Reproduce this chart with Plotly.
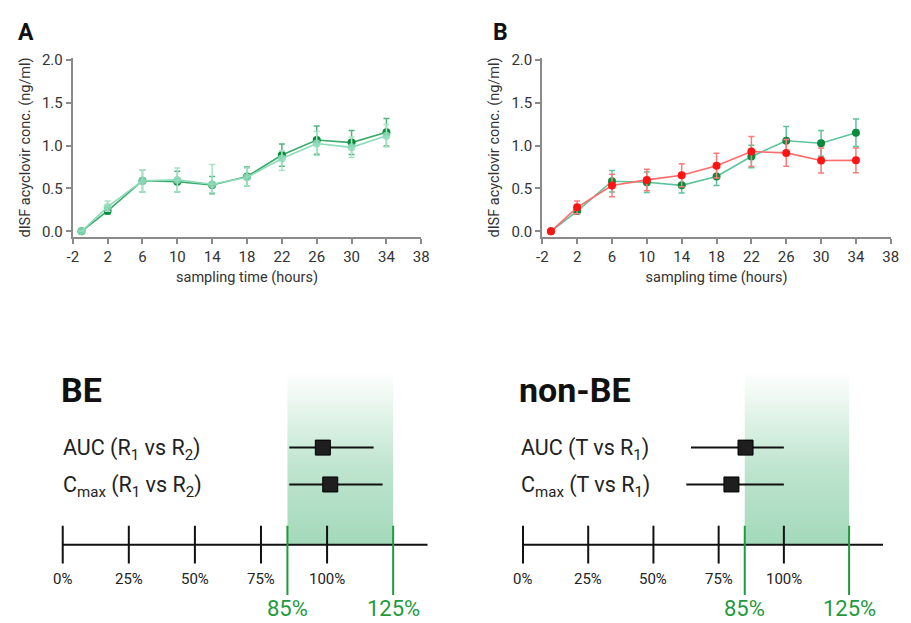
import plotly.graph_objects as go

# The page body has an 8px margin, so the figure is drawn 8px smaller and all
# layout positions below are given in window pixels and converted.
OFF = 8
W, H = 911 - OFF, 623 - OFF
FONT = "Roboto"


def fx(px):
    return (px - OFF) / W


def fy(py):
    return (623 - py) / H


# ---------------- data: concentration-time curves ----------------
times = [-1, 2, 6, 10, 14, 18, 22, 26, 30, 34]
x_ticks = [-2, 2, 6, 10, 14, 18, 22, 26, 30, 34, 38]
x_tick_text = ["-2", "2", "6", "10", "14", "18", "22", "26", "30", "34", "38"]
y_ticks = [0.0, 0.5, 1.0, 1.5, 2.0]

# Panel A
a_r1 = [0, 0.24, 0.59, 0.58, 0.54, 0.64, 0.89, 1.065, 1.035, 1.155]
a_r1_err = [0, 0.04, 0.13, 0.12, 0.10, 0.11, 0.13, 0.165, 0.14, 0.16]
a_r2 = [0, 0.285, 0.59, 0.60, 0.55, 0.63, 0.85, 1.025, 0.98, 1.115]
a_r2_err_plus = [0, 0.07, 0.13, 0.14, 0.23, 0.11, 0.09, 0.14, 0.12, 0.13]
a_r2_err_minus = [0, 0.05, 0.13, 0.14, 0.10, 0.10, 0.14, 0.14, 0.12, 0.13]

# Panel B
b_r1 = [0, 0.236, 0.585, 0.573, 0.537, 0.64, 0.873, 1.057, 1.027, 1.15]
b_r1_err = [0, 0.03, 0.125, 0.12, 0.09, 0.105, 0.13, 0.165, 0.15, 0.16]
b_t = [0, 0.28, 0.535, 0.60, 0.654, 0.766, 0.931, 0.915, 0.827, 0.828]
b_t_err = [0, 0.075, 0.13, 0.125, 0.135, 0.145, 0.175, 0.155, 0.145, 0.145]

# ---------------- data: bioequivalence forest plots ----------------
be_labels = ["AUC (R<sub>1</sub> vs R<sub>2</sub>)", "C<sub>max</sub> (R<sub>1</sub> vs R<sub>2</sub>)"]
be_point = [98.4, 101.2]
be_lo = [85.7, 85.7]
be_hi = [117.6, 121.0]

nbe_labels = ["AUC (T vs R<sub>1</sub>)", "C<sub>max</sub> (T vs R<sub>1</sub>)"]
nbe_point = [85.3, 79.9]
nbe_lo = [64.4, 62.6]
nbe_hi = [100.0, 100.0]

row_pos = [2, 1]
pct_ticks = [0, 25, 50, 75, 100]
pct_tick_text = ["0%", "25%", "50%", "75%", "100%"]
limits = [85, 125]
limit_text = ["85%", "125%"]
axis_end = 138

# ---------------- colours ----------------
DARK_GREEN = "#0b8a3b"
DARK_GREEN_LINE = "#3aa96a"
LIGHT_GREEN = "#8edbb8"
TEAL_LINE = "#5cc49a"
RED = "#ff1414"
RED_LINE = "#ff6a6a"
LIMIT_GREEN = "#1f9a3c"

fig = go.Figure()


def err(arr, minus=None, color="#000"):
    d = dict(type="data", array=arr, visible=True, color=color, thickness=1.5, width=3)
    if minus is not None:
        d["arrayminus"] = minus
        d["symmetric"] = False
    return d


# Panel A traces
fig.add_trace(go.Scatter(x=times, y=a_r1, mode="lines+markers", xaxis="x", yaxis="y",
                         line=dict(color=DARK_GREEN_LINE, width=1.6),
                         marker=dict(color=DARK_GREEN, size=8),
                         error_y=err(a_r1_err, color="#4fb57c"), showlegend=False))
fig.add_trace(go.Scatter(x=times, y=a_r2, mode="lines+markers", xaxis="x", yaxis="y",
                         line=dict(color=LIGHT_GREEN, width=1.6),
                         marker=dict(color=LIGHT_GREEN, size=8, opacity=0.85),
                         error_y=err(a_r2_err_plus, a_r2_err_minus, color="#a6e3c7"),
                         showlegend=False))

# Panel B traces
fig.add_trace(go.Scatter(x=times, y=b_r1, mode="lines+markers", xaxis="x2", yaxis="y2",
                         line=dict(color=TEAL_LINE, width=1.6),
                         marker=dict(color=DARK_GREEN, size=8),
                         error_y=err(b_r1_err, color=TEAL_LINE), showlegend=False))
fig.add_trace(go.Scatter(x=times, y=b_t, mode="lines+markers", xaxis="x2", yaxis="y2",
                         line=dict(color=RED_LINE, width=1.6),
                         marker=dict(color=RED, size=8),
                         error_y=err(b_t_err, color="#ff7b7b"), showlegend=False))

# ---------------- bottom panels ----------------
# vertical layout of forest panels (in y3 units, rows at 2 and 1, 37.5 px per unit)
AXIS_Y = -0.64
TICK_TOP = -0.12
TICK_BOT = -1.147
LIMIT_BOT = -2.0
BAND_TOP = 4.067
TICK_LABEL_Y = -1.58
LIMIT_LABEL_Y = -2.36
TITLE_Y = 3.57
ROW_SHIFT = -0.05

annotations = []


def forest_panel(xa, labels, point, lo, hi, title, label_px):
    # gradient acceptance band
    fig.add_trace(go.Scatter(x=[limits[0], limits[1], limits[1], limits[0], limits[0]],
                             y=[AXIS_Y, AXIS_Y, BAND_TOP, BAND_TOP, AXIS_Y],
                             xaxis=xa, yaxis="y3", mode="lines", fill="toself",
                             line=dict(width=0, color="rgba(0,0,0,0)"),
                             fillgradient=dict(type="vertical",
                                               colorscale=[[0, "#a3d9bb"], [0.45, "#bfe5cf"],
                                                           [1, "rgba(255,255,255,1)"]]),
                             hoverinfo="skip", showlegend=False))
    # number line
    fig.add_trace(go.Scatter(x=[0, axis_end], y=[AXIS_Y, AXIS_Y], xaxis=xa, yaxis="y3",
                             mode="lines", line=dict(color="#111", width=2),
                             hoverinfo="skip", showlegend=False))
    tx, ty = [], []
    for t in pct_ticks:
        tx += [t, t, None]
        ty += [TICK_TOP, TICK_BOT, None]
    fig.add_trace(go.Scatter(x=tx, y=ty, xaxis=xa, yaxis="y3", mode="lines",
                             line=dict(color="#111", width=2),
                             hoverinfo="skip", showlegend=False))
    lx, ly = [], []
    for t in limits:
        lx += [t, t, None]
        ly += [TICK_TOP, LIMIT_BOT, None]
    fig.add_trace(go.Scatter(x=lx, y=ly, xaxis=xa, yaxis="y3", mode="lines",
                             line=dict(color=LIMIT_GREEN, width=2),
                             hoverinfo="skip", showlegend=False))
    # point estimates with 90% CI
    fig.add_trace(go.Scatter(x=point, y=row_pos, xaxis=xa, yaxis="y3", mode="markers",
                             marker=dict(symbol="square", size=15, color="#1e1e1e",
                                         line=dict(color="#000", width=1)),
                             error_x=dict(type="data", symmetric=False,
                                          array=[h - p for h, p in zip(hi, point)],
                                          arrayminus=[p - l for p, l in zip(point, lo)],
                                          color="#111", thickness=2, width=0),
                             showlegend=False))
    for t, s in zip(pct_ticks, pct_tick_text):
        annotations.append(dict(x=t, y=TICK_LABEL_Y, xref=xa, yref="y3", text=s,
                                showarrow=False, font=dict(family=FONT, size=15, color="#222")))
    for t, s in zip(limits, limit_text):
        annotations.append(dict(x=t, y=LIMIT_LABEL_Y, xref=xa, yref="y3", text=s,
                                showarrow=False, font=dict(family=FONT, size=22, color=LIMIT_GREEN)))
    for r, s in zip(row_pos, labels):
        annotations.append(dict(x=fx(label_px), y=r + ROW_SHIFT, xref="paper", yref="y3", text=s,
                                xanchor="left", yanchor="middle", showarrow=False,
                                font=dict(family=FONT, size=21.5, color="#222")))
    annotations.append(dict(x=fx(label_px - 2), y=TITLE_Y, xref="paper", yref="y3",
                            text="<b>%s</b>" % title, xanchor="left", yanchor="middle",
                            showarrow=False, font=dict(family=FONT, size=34, color="#111")))


forest_panel("x3", be_labels, be_point, be_lo, be_hi, "BE", 56)
forest_panel("x4", nbe_labels, nbe_point, nbe_lo, nbe_hi, "non-BE", 521)

# panel letters
annotations.append(dict(x=fx(10), y=fy(26), xref="paper", yref="paper", text="<b>A</b>",
                        xanchor="left", yanchor="middle", showarrow=False,
                        font=dict(family=FONT, size=23, color="#111")))
annotations.append(dict(x=fx(493), y=fy(26), xref="paper", yref="paper", text="<b>B</b>",
                        xanchor="left", yanchor="middle", showarrow=False,
                        font=dict(family=FONT, size=23, color="#111")))

AX_GREY = "#8a8a8a"
top_y_domain = [fy(234), fy(51.7)]


def x_top(dom):
    return dict(domain=dom, range=[-2, 38], tickmode="array", tickvals=x_ticks,
                ticktext=x_tick_text,
                showline=True, linecolor=AX_GREY, linewidth=2, ticks="outside",
                ticklen=5, tickwidth=1.5, tickcolor=AX_GREY, showgrid=False, zeroline=False,
                tickfont=dict(family=FONT, size=15, color="#333"),
                title=dict(text="sampling time (hours)", standoff=7,
                           font=dict(family=FONT, size=14.5, color="#333")))


def y_top():
    return dict(domain=top_y_domain, range=[-0.0654, 2.023], tickmode="array",
                tickvals=y_ticks, tickformat=".1f",
                showline=True, linecolor=AX_GREY, linewidth=2, ticks="outside",
                ticklen=5, tickwidth=1.5, tickcolor=AX_GREY, showgrid=False, zeroline=False,
                tickfont=dict(family=FONT, size=15, color="#333"),
                title=dict(text="dISF acyclovir conc. (ng/ml)", standoff=8,
                           font=dict(family=FONT, size=14.5, color="#333")))


xa = x_top([fx(67.7), fx(421.7)]); xa["anchor"] = "y"
ya = y_top(); ya["anchor"] = "x"
xb = x_top([fx(544.6), fx(898.6)]); xb["anchor"] = "y2"
yb = y_top(); yb["anchor"] = "x2"

fig.update_layout(
    width=W, height=H,
    margin=dict(l=0, r=0, t=0, b=0),
    paper_bgcolor="white", plot_bgcolor="rgba(0,0,0,0)",
    font=dict(family=FONT, color="#333"),
    xaxis=xa, yaxis=ya, xaxis2=xb, yaxis2=yb,
    xaxis3=dict(domain=[fx(40), fx(445)], range=[(40 - 57.5) / 2.685, (445 - 57.5) / 2.685],
                visible=False, anchor="y3"),
    xaxis4=dict(domain=[fx(505), fx(905)], range=[(505 - 525) / 2.65, (905 - 525) / 2.65],
                visible=False, anchor="y3"),
    yaxis3=dict(domain=[fy(623), fy(360)], range=[-2.653, 4.36], visible=False, anchor="x3"),
    annotations=annotations,
    showlegend=False,
)

fig.write_html("out.html")
